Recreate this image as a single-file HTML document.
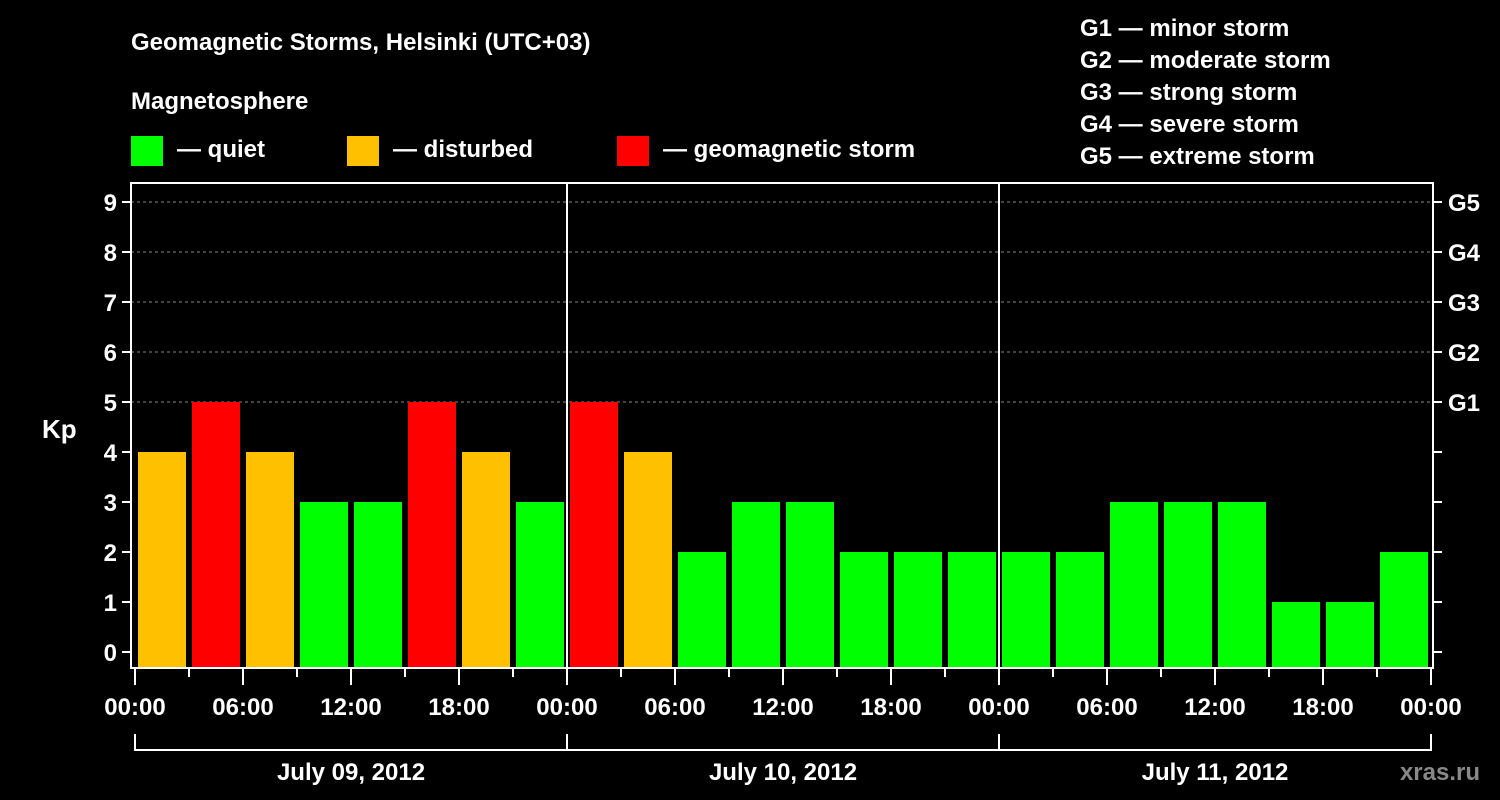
<!DOCTYPE html>
<html><head><meta charset="utf-8"><style>
html,body{margin:0;padding:0;background:#000;}
svg{display:block;font-family:"Liberation Sans",Arial,sans-serif;font-weight:bold;}
</style></head><body>
<svg id="c" width="1500" height="800" viewBox="0 0 1500 800">
<text x="131" y="50" fill="#fff" font-size="24">Geomagnetic Storms, Helsinki (UTC+03)</text>
<text x="131" y="109" fill="#fff" font-size="24">Magnetosphere</text>
<g><rect x="131" y="136" width="32" height="30" fill="#00ff00"/><text x="177" y="157" fill="#fff" font-size="24">— quiet</text></g>
<g><rect x="347" y="136" width="32" height="30" fill="#ffc000"/><text x="393" y="157" fill="#fff" font-size="24">— disturbed</text></g>
<g><rect x="617" y="136" width="32" height="30" fill="#ff0000"/><text x="663" y="157" fill="#fff" font-size="24">— geomagnetic storm</text></g>
<g fill="#fff" font-size="24">
<text x="1080" y="36">G1 — minor storm</text>
<text x="1080" y="68">G2 — moderate storm</text>
<text x="1080" y="100">G3 — strong storm</text>
<text x="1080" y="132">G4 — severe storm</text>
<text x="1080" y="164">G5 — extreme storm</text>
</g>
<text x="42" y="438" fill="#fff" font-size="26">Kp</text>
<text x="1480" y="780" fill="#888" font-size="24" text-anchor="end">xras.ru</text>
<g id="grid"></g><g id="bars"></g><g id="axes"></g>
</svg>
<script>
const days = ["July 09, 2012","July 10, 2012","July 11, 2012"];
const kpValues = [4,5,4,3,3,5,4,3, 5,4,2,3,3,2,2,2, 2,2,3,3,3,1,1,2];
const yTicks = [0,1,2,3,4,5,6,7,8,9];
const gLabels = ["G1","G2","G3","G4","G5"];
const gLevels = [5,6,7,8,9];
const xTickLabels = ["00:00","06:00","12:00","18:00"];

const NS="http://www.w3.org/2000/svg";
const L=131,R=1433,T=183,B=668,X0=135,dayW=432;
const y=v=>652-v*50;
const x=h=>X0+h*dayW/24;
function mk(tag,attrs,parent,text){const e=document.createElementNS(NS,tag);for(const k in attrs)e.setAttribute(k,attrs[k]);if(text!=null)e.textContent=text;document.getElementById(parent).appendChild(e);return e;}
const color=v=>v>=5?"#ff0000":(v>=4?"#ffc000":"#00ff00");

gLevels.forEach((g,i)=>{
  const l=mk("line",{x1:L,x2:R,y1:y(g),y2:y(g),stroke:"#888","stroke-dasharray":"3,3","stroke-width":1},"grid");
  
  
});
kpValues.forEach((v,i)=>{
  const x1=x(i*3)+3,x2=x(i*3+3)-3;
  const r=mk("rect",{x:x1,y:y(v),width:x2-x1,height:B-y(v),fill:color(v)},"bars");
  
  
});
// frame
const f=mk("rect",{x:L,y:T,width:R-L,height:B-T,fill:"none",stroke:"#fff","stroke-width":2},"axes");


for(let d=1;d<days.length;d++){
  const s=mk("line",{x1:x(d*24),x2:x(d*24),y1:T,y2:B,stroke:"#fff","stroke-width":2},"axes");
  
  
}
yTicks.forEach(v=>{
  mk("line",{x1:L-9,x2:L,y1:y(v),y2:y(v),stroke:"#fff","stroke-width":2},"axes");
  mk("line",{x1:R,x2:R+9,y1:y(v),y2:y(v),stroke:"#fff","stroke-width":2},"axes");
  const t=mk("text",{x:L-14,y:y(v)+9,fill:"#fff","font-size":24,"text-anchor":"end"},"axes",String(v));
  
  
});
gLevels.forEach((g,i)=>{
  const t=mk("text",{x:1448,y:y(g)+9,fill:"#fff","font-size":24},"axes",gLabels[i]);
  
  
});
for(let h=0;h<=days.length*24;h+=3){
  const major=h%6===0;
  mk("line",{x1:x(h),x2:x(h),y1:B,y2:B+(major?17:9),stroke:"#fff","stroke-width":2},"axes");
  if(major){
    const t=mk("text",{x:x(h),y:715,fill:"#fff","font-size":24,"text-anchor":"middle"},"axes",xTickLabels[(h%24)/6]);
    
    
  }
}
mk("line",{x1:x(0),x2:x(days.length*24),y1:750,y2:750,stroke:"#fff","stroke-width":2},"axes");
for(let d=0;d<=days.length;d++) mk("line",{x1:x(d*24),x2:x(d*24),y1:734,y2:751,stroke:"#fff","stroke-width":2},"axes");
days.forEach((d,i)=>{
  const t=mk("text",{x:x(i*24+12),y:780,fill:"#fff","font-size":24,"text-anchor":"middle"},"axes",d);
  
  
});
</script>
</body></html>
